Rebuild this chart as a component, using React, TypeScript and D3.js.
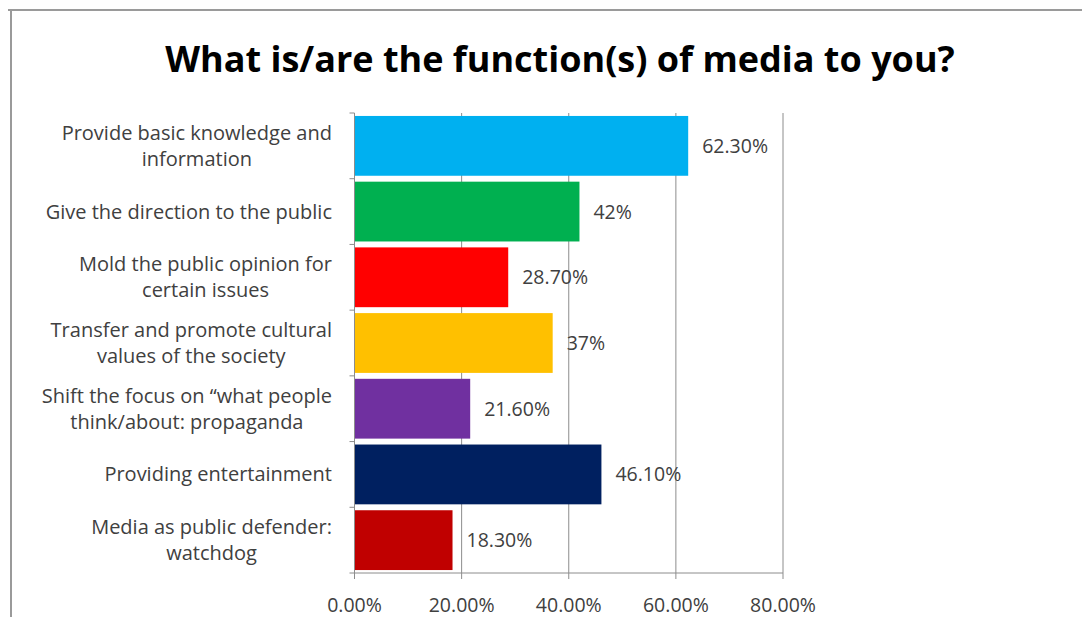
import React, { useEffect, useRef } from "react";
import * as d3 from "d3";

const categories: string[][] = [
  ["Provide basic knowledge and", "information"],
  ["Give the direction to the public"],
  ["Mold the public opinion for", "certain issues"],
  ["Transfer and promote cultural", "values of the society"],
  ["Shift the focus on \u201cwhat people", "think/about: propaganda"],
  ["Providing entertainment"],
  ["Media as public defender:", "watchdog"],
];
const values: number[] = [62.3, 42, 28.7, 37, 21.6, 46.1, 18.3];
const valueLabels: string[] = ["62.30%", "42%", "28.70%", "37%", "21.60%", "46.10%", "18.30%"];
const colors: string[] = ["#00B0F0", "#00B050", "#FF0000", "#FFC000", "#7030A0", "#002060", "#C00000"];
const xTicks: number[] = [0, 20, 40, 60, 80];
const title = "What is/are the function(s) of media to you?";

const W = 1090;
const H = 625;
const FONT = "'Open Sans', Lato, sans-serif";

export default function App() {
  const ref = useRef<SVGSVGElement>(null);
  useEffect(() => {
    const svg = d3.select(ref.current);
    svg.selectAll("*").remove();

    const left = 354.5, right = 783, top = 113, bottom = 573;
    const x = d3.scaleLinear().domain([0, 80]).range([left, right]);
    const y = d3.scaleBand<number>().domain(d3.range(values.length)).range([top, bottom]).paddingInner(0.09).paddingOuter(0.045);
    const band = (bottom - top) / values.length;

    svg.append("rect").attr("width", W).attr("height", H).attr("fill", "#fff");
    // frame
    svg.append("line").attr("x1", 5).attr("x2", W).attr("y1", 10).attr("y2", 10).attr("stroke", "#9a9a9a").attr("stroke-width", 2);
    svg.append("line").attr("x1", 11).attr("x2", 11).attr("y1", 10).attr("y2", H).attr("stroke", "#9a9a9a").attr("stroke-width", 2);

    svg.append("text").attr("x", 560).attr("y", 72).attr("text-anchor", "middle")
      .attr("font-family", FONT).attr("font-weight", 700).attr("font-size", 36).attr("fill", "#000").text(title);

    // gridlines
    svg.append("g").selectAll("line").data(xTicks.slice(1)).join("line")
      .attr("x1", (d) => x(d)).attr("x2", (d) => x(d)).attr("y1", top).attr("y2", bottom)
      .attr("stroke", "#8c8c8c").attr("stroke-width", 1);

    // bars
    svg.append("g").selectAll("rect").data(values).join("rect")
      .attr("x", x(0)).attr("y", (_, i) => y(i)!).attr("width", (d) => x(d) - x(0)).attr("height", y.bandwidth())
      .attr("fill", (_, i) => colors[i]);

    // axes
    svg.append("line").attr("x1", left).attr("x2", left).attr("y1", top).attr("y2", bottom).attr("stroke", "#8c8c8c");
    svg.append("line").attr("x1", left).attr("x2", right).attr("y1", bottom).attr("y2", bottom).attr("stroke", "#8c8c8c");
    svg.append("g").selectAll("line").data(d3.range(values.length + 1)).join("line")
      .attr("x1", left - 5).attr("x2", left).attr("y1", (i) => top + i * band).attr("y2", (i) => top + i * band)
      .attr("stroke", "#8c8c8c");
    svg.append("g").selectAll("line").data(xTicks).join("line")
      .attr("x1", (d) => x(d)).attr("x2", (d) => x(d)).attr("y1", bottom).attr("y2", bottom + 6)
      .attr("stroke", "#8c8c8c");

    // x tick labels
    svg.append("g").selectAll("text").data(xTicks).join("text")
      .attr("x", (d) => x(d)).attr("y", 612).attr("text-anchor", "middle")
      .attr("font-family", FONT).attr("font-size", 19.5).attr("fill", "#404040")
      .text((d) => d.toFixed(2) + "%");

    // value labels
    svg.append("g").selectAll("text").data(values).join("text")
      .attr("x", (d) => x(d) + 14).attr("y", (_, i) => y(i)! + y.bandwidth() / 2 + 7)
      .attr("font-family", FONT).attr("font-size", 19.5).attr("fill", "#404040")
      .text((_, i) => valueLabels[i]);

    // category labels
    const labelRight = 332;
    categories.forEach((lines, i) => {
      const cy = top + (i + 0.5) * band;
      const g = svg.append("g");
      const texts = lines.map((ln, j) =>
        g.append("text")
          .attr("y", cy + (j - (lines.length - 1) / 2) * 26 + 7)
          .attr("font-family", FONT).attr("font-size", 20).attr("fill", "#404040")
          .attr("text-anchor", "middle").text(ln)
      );
      const maxW = d3.max(texts, (t) => (t.node() as SVGTextElement).getComputedTextLength()) || 0;
      texts.forEach((t) => t.attr("x", labelRight - maxW / 2));
    });
  }, []);
  return <svg ref={ref} width={W} height={H} style={{ display: "block", margin: "-8px" }} />;
}
